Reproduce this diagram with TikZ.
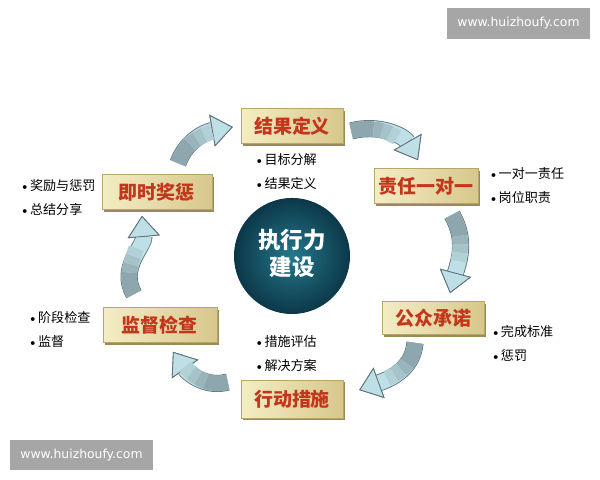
\documentclass[tikz,border=0pt]{standalone}
\usepackage{fontspec}
\newfontfamily\cjk{Noto Sans CJK SC}
\newfontfamily\wmfont{DejaVu Sans}
\usetikzlibrary{positioning, calc, shadows, arrows.meta}

\definecolor{boxlight}{HTML}{F4EDC4}
\definecolor{boxdark}{HTML}{D7C78C}
\definecolor{boxedge}{HTML}{B8A56A}
\definecolor{boxshade}{HTML}{9A8A58}
\definecolor{stagered}{HTML}{C4361C}
\definecolor{coreinner}{HTML}{24788D}
\definecolor{coreouter}{HTML}{0C3848}
\definecolor{ribbonfill}{HTML}{BDDFE5}
\definecolor{ribbondark}{HTML}{8EA6AD}
\definecolor{ribbonedge}{HTML}{5D7279}
\definecolor{wmgray}{HTML}{A6A6A6}

\newcommand{\itemdot}{{\rmfamily\textbullet}}

\begin{document}
\begin{tikzpicture}[x=0.025cm, y=0.025cm, node distance=3cm, on grid,
  stage/.style={rectangle, minimum width=2.55cm, minimum height=0.88cm, left color=boxlight, right color=boxdark, draw=boxedge, line width=0.3pt, drop shadow={shadow xshift=1.3pt, shadow yshift=-1.6pt, fill=boxshade, opacity=1}, text=stagered, font=\cjk\bfseries\fontsize{13.5}{14}\selectfont},
  items/.style={on grid=false, align=left, inner sep=0pt, font=\cjk\fontsize{9.3}{17}\selectfont},
  ribbon/.style={draw=ribbonfill, line width=11pt, -{Triangle[width=23pt, length=15pt, line width=0.6pt, fill=ribbonfill, color=ribbonedge]},
    preaction={draw=ribbonedge, line width=12.2pt},
    postaction={draw=ribbondark, line width=11pt, arrows=-, dash pattern=on 16pt off 2000pt},
    postaction={draw=ribbondark!75!ribbonfill, line width=11pt, arrows=-, dash pattern=on 0pt off 16pt on 6pt off 2000pt},
    postaction={draw=ribbondark!50!ribbonfill, line width=11pt, arrows=-, dash pattern=on 0pt off 22pt on 6pt off 2000pt},
    postaction={draw=ribbondark!25!ribbonfill, line width=11pt, arrows=-, dash pattern=on 0pt off 28pt on 6pt off 2000pt}},
  watermark/.style={fill=wmgray, text=white, minimum width=3.58cm, minimum height=0.77cm, font=\wmfont\fontsize{8.8}{10}\selectfont}
  ]
	\useasboundingbox (0,0) rectangle (600,480);

	% 中心
	\node[circle, minimum size=2.9cm, inner color=coreinner, outer color=coreouter] (core) at (292,224) {};
	\node[text=white, align=center, font=\cjk\bfseries\fontsize{16}{19}\selectfont] (corelabel) [above=0.07cm of core] {执行力\\建设};

	% 六个环节
	\node[stage]                     (result)    [above=3.25cm of core]                {结果定义};
	\node[stage]                     (duty)      [above right=1.75cm and 3.35cm of core] {责任一对一};
	\node[stage, minimum width=2.75cm] (reward)  [above left=1.6cm and 3.375cm of core]  {即时奖惩};
	\node[stage, minimum width=2.85cm] (supervise) [below left=1.725cm and 3.3cm of core] {监督检查};
	\node[stage, minimum height=0.83cm] (pledge) [below right=1.55cm and 3.525cm of core] {公众承诺};
	\node[stage, minimum height=0.95cm] (action) [below=3.575cm of core]             {行动措施};

	% 要点
	\node[items, below right=0.24cm and 0.325cm of result.south west] (resultitems) {\itemdot 目标分解\\\itemdot 结果定义};
	\node[items, right=0.24cm of duty] (dutyitems) {\itemdot 一对一责任\\\itemdot 岗位职责};
	\node[items, left=0.15cm of reward, yshift=-4pt] (rewarditems) {\itemdot 奖励与惩罚\\\itemdot 总结分享};
	\node[items, left=0.3cm of supervise, yshift=-3pt] (superviseitems) {\itemdot 阶段检查\\\itemdot 监督};
	\node[items, below right=0.175cm and 0.15cm of pledge.east] (pledgeitems) {\itemdot 完成标准\\\itemdot 惩罚};
	\node[items, above right=0.2cm and 0.325cm of action.north west] (actionitems) {\itemdot 措施评估\\\itemdot 解决方案};

	% 循环箭头
	\draw[ribbon] ($(reward.north)+(21,11)$)    to[out=70, in=190]  ($(result.west)+(-8,-1)$);
	\draw[ribbon] ($(result.east)+(8,-5)$)      to[out=15, in=120]  ($(duty.north)+(-8,8)$);
	\draw[ribbon] ($(duty.south)+(26,-11)$)     to[out=-60, in=75]  ($(pledge.north)+(17,8)$);
	\draw[ribbon] ($(pledge.south)+(-18,-8)$)   to[out=-95, in=20]  ($(action.east)+(16,9)$);
	\draw[ribbon] ($(action.west)+(-13,17)$)    to[out=195, in=-55] ($(supervise.south)+(13,-9)$);
	\draw[ribbon] ($(supervise.north)+(-26,13)$) to[out=120, in=-85] ($(reward.south)+(-15,-6)$);

	% 水印
	\node[watermark] (wmtop)    at (518.5,456.5) {www.huizhoufy.com};
	\node[watermark] (wmbottom) at (81.5,25)     {www.huizhoufy.com};
\end{tikzpicture}
\end{document}
